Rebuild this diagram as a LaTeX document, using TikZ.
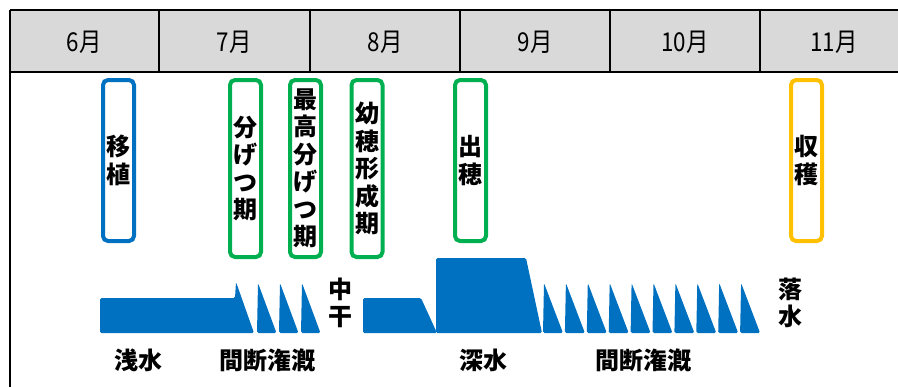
\documentclass[tikz,border=0pt]{standalone}
\usepackage{fontspec}
\newfontfamily\jp{Noto Sans CJK JP}
\newfontfamily\jpn[FakeStretch=0.86]{Noto Sans CJK JP}
\definecolor{water}{HTML}{0070C0}
\definecolor{stageblue}{HTML}{0070C0}
\definecolor{stagegreen}{HTML}{00B050}
\definecolor{stageorange}{HTML}{FFC000}
\definecolor{headgray}{HTML}{D9D9D9}
\tikzset{
  stagebox/.style={draw=#1, line width=4bp, rounded corners=5bp, fill=white,
    minimum width=31bp, inner sep=0pt, align=center,
    font=\jp\bfseries\fontsize{24bp}{27.5bp}\selectfont},
  month/.style={font=\jpn\fontsize{26bp}{28bp}\selectfont, inner sep=0pt},
  lab/.style={font=\jp\bfseries\fontsize{24bp}{27bp}\selectfont, inner sep=0pt, align=center},
  waterfill/.style={fill=water, rounded corners=1.5bp},
  gridline/.style={line width=2.5bp, black}
}
\begin{document}
\begin{tikzpicture}[x=1bp,y=-1bp]
\useasboundingbox (0,0) rectangle (898,387);
% header
\fill[headgray] (10,10) rectangle (898,72);
\draw[gridline] (10,10) -- (898,10);
\draw[gridline] (10,72) -- (898,72);
\draw[gridline] (10,10) -- (10,387);
\foreach \x in {159,310,460,610,760} \draw[line width=2bp] (\x,10) -- (\x,72);
\node[month] (m6) at (84,42) {6月};
\node[month] (m7) at (234,42) {7月};
\node[month] (m8) at (385,42) {8月};
\node[month] (m9) at (535,42) {9月};
\node[month] (m10) at (685,42) {10月};
\node[month] (m11) at (834,42) {11月};
% stage boxes
\node[stagebox=stageblue, minimum height=161bp] (s1) at (118.5,160.5) {移\\植};
\node[stagebox=stagegreen, minimum height=177bp] (s2) at (245.5,168.5) {分\\げ\\つ\\期};
\node[stagebox=stagegreen, minimum height=177bp] (s3) at (305.5,168.5) {最\\高\\分\\げ\\つ\\期};
\node[stagebox=stagegreen, minimum height=177bp] (s4) at (367,168.5) {幼\\穂\\形\\成\\期};
\node[stagebox=stagegreen, minimum height=161bp] (s5) at (470.5,160.5) {出\\穂};
\node[stagebox=stageorange, minimum height=161bp] (s6) at (806.5,160.5) {収\\穫};
% water levels
\fill[waterfill] (100,333) -- (100,298) -- (235,298) -- (236,282) -- (254,333) -- cycle;
\foreach \x in {257,279,301}
  \fill[waterfill] (\x,333) -- (\x+1,283) -- (\x+19.5,333) -- cycle;
\fill[waterfill] (363,333) -- (363,298) -- (421,298) -- (437,333) -- cycle;
\fill[waterfill] (436,333) -- (436,258) -- (526,258) -- (542,333) -- cycle;
\foreach \i in {0,...,9}
  \fill[waterfill] (543+21.9*\i,333) -- (544+21.9*\i,283) -- (563+21.9*\i,333) -- cycle;
% labels
\node[lab] (l1) at (138,360) {浅水};
\node[lab] (l2) at (267,360) {間断潅漑};
\node[lab] (l3) at (340,303) {中\\干};
\node[lab] (l4) at (483,360) {深水};
\node[lab] (l5) at (643,360) {間断潅漑};
\node[lab] (l6) at (790,303) {落\\水};
\end{tikzpicture}
\end{document}
